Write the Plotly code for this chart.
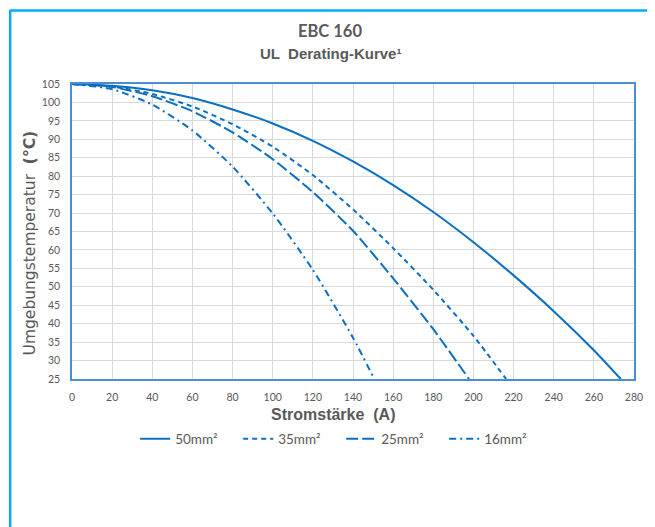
import plotly.graph_objects as go

# ---- data ----
x_50 = [0, 20, 40, 60, 80, 100, 120, 140, 160, 180, 200, 220, 240, 260, 273.4]
y_50 = [105, 104.5, 103.3, 101.2, 98.1, 94.3, 89.6, 84.0, 77.6, 70.3, 62.1, 53.1, 43.4, 32.8, 25]

x_35 = [0, 20, 40, 60, 80, 100, 120, 140, 160, 180, 200, 216.3]
y_35 = [105, 104.3, 102.3, 98.9, 94.1, 88.0, 80.3, 71.0, 60.5, 49.2, 36.7, 25]

x_25 = [0, 20, 40, 60, 80, 100, 120, 140, 160, 180, 197.8]
y_25 = [105, 104.2, 101.7, 97.6, 91.9, 84.6, 75.7, 65.2, 52.3, 38.5, 25]

x_16 = [0, 20, 40, 60, 80, 100, 120, 140, 150.6]
y_16 = [105, 103.6, 99.4, 92.4, 82.6, 69.9, 54.6, 36.2, 25]

series_names = ["50mm²", "35mm²", "25mm²", "16mm²"]
x_ticks = list(range(0, 281, 20))
y_ticks = list(range(25, 106, 5))

title_main = "EBC 160"
title_sub = "UL  Derating-Kurve¹"
x_title = "Stromstärke  (A)"
y_title = "Umgebungstemperatur  <b>(°C)</b>"

# ---- styling ----
LINE_COLOR = "#0A6FC2"
TEXT_COLOR = "#595959"
dashes = ["solid", "5px,4px", "12px,4px", "7px,4px,2px,4px"]

fig = go.Figure()
for xs, ys, name, dash in zip([x_50, x_35, x_25, x_16], [y_50, y_35, y_25, y_16], series_names, dashes):
    fig.add_trace(go.Scatter(
        x=xs, y=ys, name=name, mode="lines",
        line=dict(color=LINE_COLOR, width=2, dash=dash, shape="spline", smoothing=0.6),
    ))

# page has an 8px body margin, so the figure is sized/offset accordingly
fig.update_layout(
    width=647, height=519,
    margin=dict(l=64, r=15, t=76, b=148),
    paper_bgcolor="white", plot_bgcolor="white",
    font=dict(family="Lato, Open Sans, sans-serif", color=TEXT_COLOR, size=11),
    showlegend=True,
    legend=dict(
        orientation="h", x=0.479, xanchor="center", y=-0.203, yanchor="middle",
        font=dict(family="Lato", size=13.5, color=TEXT_COLOR),
        entrywidth=58, entrywidthmode="pixels", tracegroupgap=0,
    ),
)

fig.update_xaxes(
    range=[0, 280], tickvals=x_ticks, ticktext=[str(v) for v in x_ticks],
    showgrid=True, gridcolor="#D9D9D9", gridwidth=1.4,
    showline=True, linecolor="#4A8FD6", linewidth=1.5, mirror=True,
    ticks="", ticklabelstandoff=8, zeroline=False,
    tickfont=dict(family="Lato", size=10.5, color=TEXT_COLOR),
)
fig.update_yaxes(
    range=[25, 105], tickvals=y_ticks, ticktext=[str(v) for v in y_ticks],
    showgrid=True, gridcolor="#D9D9D9", gridwidth=1.4,
    showline=True, linecolor="#4A8FD6", linewidth=1.5, mirror=True,
    ticks="", ticklabelstandoff=8, zeroline=False,
    tickfont=dict(family="Lato", size=10.5, color=TEXT_COLOR),
)

annotations = [
    dict(text="<b>" + title_main + "</b>", x=0.4595, y=1.180, xref="paper", yref="paper",
         showarrow=False, xanchor="center", yanchor="middle",
         font=dict(family="Lato", size=16.5, color=TEXT_COLOR)),
    dict(text="<b>" + title_sub + "</b>", x=0.4595, y=1.105, xref="paper", yref="paper",
         showarrow=False, xanchor="center", yanchor="middle",
         font=dict(family="Liberation Sans", size=15, color=TEXT_COLOR)),
    dict(text="<b>" + x_title + "</b>", x=0.465, y=-0.119, xref="paper", yref="paper",
         showarrow=False, xanchor="center", yanchor="middle",
         font=dict(family="Liberation Sans", size=16, color=TEXT_COLOR)),
    dict(text=y_title, x=(30 - 72) / 568, y=(379 - 243) / 295, xref="paper", yref="paper",
         showarrow=False, xanchor="center", yanchor="middle", textangle=-90,
         font=dict(family="DejaVu Sans", size=15.5, color=TEXT_COLOR)),
]
fig.update_layout(annotations=annotations)

# outer cyan frame (top and left edges visible in the reference); page-pixel helpers
px_to_x = lambda p: (p - 72) / 568
px_to_y = lambda p: (379 - p) / 295
fig.add_shape(type="line", xref="paper", yref="paper",
              x0=px_to_x(9), x1=px_to_x(670), y0=px_to_y(10.5), y1=px_to_y(10.5),
              line=dict(color="#00B0F0", width=2.5))
fig.add_shape(type="line", xref="paper", yref="paper",
              x0=px_to_x(9.5), x1=px_to_x(9.5), y0=px_to_y(10), y1=px_to_y(540),
              line=dict(color="#00B0F0", width=2.5))

fig.write_html("out.html")
